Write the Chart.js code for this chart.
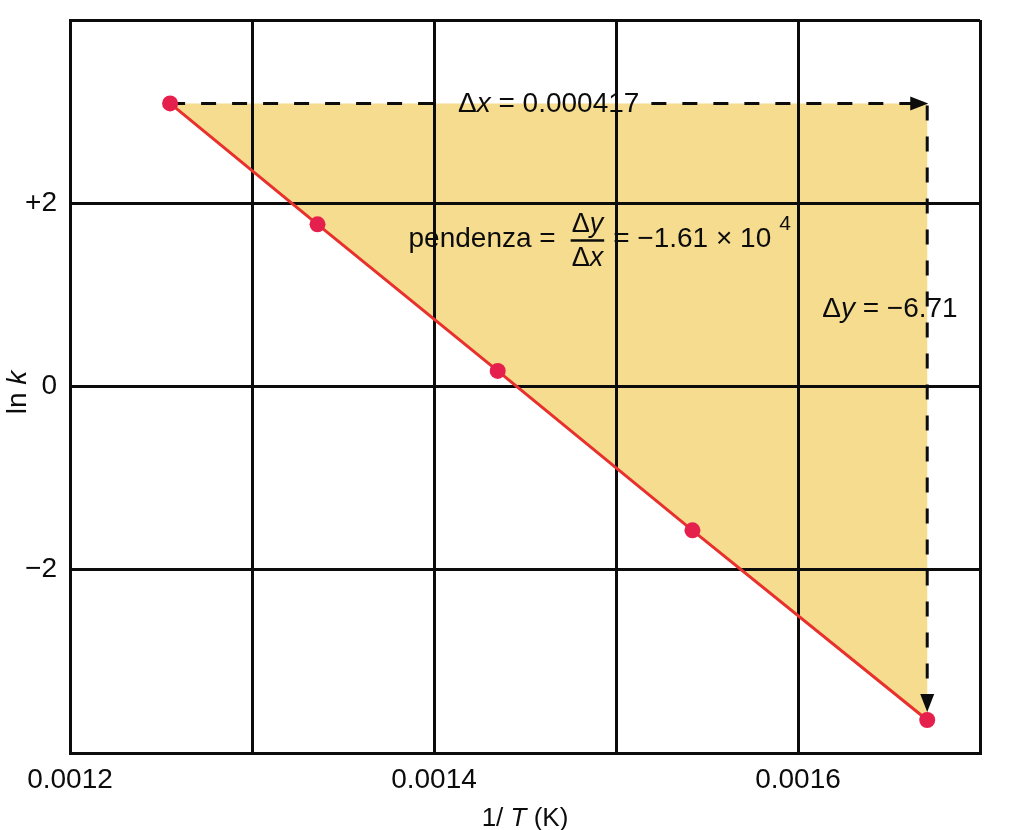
<!DOCTYPE html>
<html>
<head>
<meta charset="utf-8">
<script src="https://cdn.jsdelivr.net/npm/chart.js@4.4.0/dist/chart.umd.min.js"></script>
<style>
  html, body { margin: 0; padding: 0; background: #fff; }
</style>
</head>
<body>
<canvas id="arrhenius" width="1021" height="830"></canvas>
<script>
// data
const invT = [0.001255, 0.001336, 0.001435, 0.001542, 0.001671];
const lnK = [3.09, 1.77, 0.17, -1.57, -3.64];
const xGridValues = [0.0012, 0.0013, 0.0014, 0.0015, 0.0016, 0.0017];
const xTickLabels = ['0.0012', '', '0.0014', '', '0.0016', ''];
const yGridValues = [-4, -2, 0, 2, 4];
const yTickLabels = ['', '−2', '0', '+2', ''];
const deltaXText = '0.000417';
const deltaYText = '−6.71';
const slopeText = '−1.61';

const FONT = '"Liberation Sans", Arial, Helvetica, sans-serif';
const INK = '#0c0c0c';

function font(size, italic) {
  return (italic ? 'italic ' : '') + size + 'px ' + FONT;
}

// draws a list of text runs left to right, returns the end x
function drawRuns(ctx, runs, x, y) {
  runs.forEach(r => {
    ctx.font = font(r.size || 28, r.italic);
    ctx.fillText(r.t, x, y + (r.dy || 0));
    x += ctx.measureText(r.t).width;
  });
  return x;
}

function runsWidth(ctx, runs) {
  let w = 0;
  runs.forEach(r => {
    ctx.font = font(r.size || 28, r.italic);
    w += ctx.measureText(r.t).width;
  });
  return w;
}

function arrowHead(ctx, tx, ty, dir) {
  const len = 18, half = 7;
  ctx.beginPath();
  if (dir === 'right') {
    ctx.moveTo(tx, ty);
    ctx.lineTo(tx - len, ty - half);
    ctx.lineTo(tx - len, ty + half);
  } else {
    ctx.moveTo(tx, ty);
    ctx.lineTo(tx - half, ty - len);
    ctx.lineTo(tx + half, ty - len);
  }
  ctx.closePath();
  ctx.fill();
}

function corners(chart) {
  const { x, y } = chart.scales;
  const n = invT.length - 1;
  return {
    x0: x.getPixelForValue(invT[0]), y0: y.getPixelForValue(lnK[0]),
    x1: x.getPixelForValue(invT[n]), y1: y.getPixelForValue(lnK[n])
  };
}

// yellow triangle goes under the grid lines
const trianglePlugin = {
  id: 'triangle',
  beforeDraw(chart) {
    const ctx = chart.ctx;
    const c = corners(chart);
    ctx.save();
    ctx.fillStyle = '#f6dc8e';
    ctx.beginPath();
    ctx.moveTo(c.x0, c.y0);
    ctx.lineTo(c.x1, c.y0);
    ctx.lineTo(c.x1, c.y1);
    ctx.closePath();
    ctx.fill();
    ctx.restore();
  }
};

const dxRuns = [{ t: 'Δ' }, { t: 'x', italic: true }, { t: ' = ' + deltaXText }];

const arrowsPlugin = {
  id: 'arrows',
  beforeDatasetsDraw(chart) {
    const ctx = chart.ctx;
    const c = corners(chart);
    const textW = runsWidth(ctx, dxRuns);
    const mid = (c.x0 + c.x1) / 2;
    const tipX = c.x1 + 1;
    const tipY = c.y1 - 8;
    ctx.save();
    ctx.strokeStyle = INK;
    ctx.fillStyle = INK;
    ctx.lineWidth = 3;
    ctx.setLineDash([15, 16]);
    ctx.beginPath();
    ctx.moveTo(c.x0, c.y0);
    ctx.lineTo(mid - textW / 2 - 10, c.y0);
    ctx.moveTo(mid + textW / 2 + 12, c.y0);
    ctx.lineTo(tipX - 16, c.y0);
    ctx.moveTo(c.x1, c.y0 + 2);
    ctx.lineTo(c.x1, tipY - 16);
    ctx.stroke();
    ctx.setLineDash([]);
    arrowHead(ctx, tipX, c.y0, 'right');
    arrowHead(ctx, c.x1, tipY, 'down');
    ctx.restore();
  },
  afterDatasetsDraw(chart) {
    const ctx = chart.ctx;
    const { x, y } = chart.scales;
    const area = chart.chartArea;
    const c = corners(chart);
    ctx.save();
    ctx.fillStyle = INK;
    ctx.textBaseline = 'alphabetic';
    ctx.textAlign = 'left';

    // Δx label
    const textW = runsWidth(ctx, dxRuns);
    drawRuns(ctx, dxRuns, (c.x0 + c.x1) / 2 - textW / 2, c.y0 + 9);

    // slope with fraction
    const sx = x.getPixelForValue(0.001386);
    const sy = y.getPixelForValue(1.52);
    let px = drawRuns(ctx, [{ t: 'pendenza =' }], sx, sy) + 16;
    const num = [{ t: 'Δ', size: 27 }, { t: 'y', italic: true, size: 27 }];
    const den = [{ t: 'Δ', size: 27 }, { t: 'x', italic: true, size: 27 }];
    const fw = Math.max(runsWidth(ctx, num), runsWidth(ctx, den));
    drawRuns(ctx, num, px + (fw - runsWidth(ctx, num)) / 2, sy - 15);
    drawRuns(ctx, den, px + (fw - runsWidth(ctx, den)) / 2, sy + 19);
    ctx.fillRect(px - 1, sy - 8, fw + 2, 2.5);
    px += fw + 10;
    px = drawRuns(ctx, [{ t: '= ' + slopeText + ' × 10' }], px, sy) + 8;
    drawRuns(ctx, [{ t: '4', size: 21 }], px, sy - 17);

    // Δy label
    drawRuns(ctx, [{ t: 'Δ' }, { t: 'y', italic: true }, { t: ' = ' + deltaYText }],
      c.x1 - 105, y.getPixelForValue(0.76));

    // axis titles
    const tRuns = [{ t: '1/ ', size: 26 }, { t: 'T', italic: true, size: 26 }, { t: ' (K)', size: 26 }];
    const tw = runsWidth(ctx, tRuns);
    drawRuns(ctx, tRuns, (area.left + area.right) / 2 - tw / 2, 826);

    const kRuns = [{ t: 'ln ', size: 28 }, { t: 'k', italic: true, size: 28 }];
    const kw = runsWidth(ctx, kRuns);
    ctx.translate(26, (area.top + area.bottom) / 2 + 6);
    ctx.rotate(-Math.PI / 2);
    drawRuns(ctx, kRuns, -kw / 2, 0);
    ctx.restore();
  }
};

const tickFont = { family: FONT, size: 28 };

new Chart(document.getElementById('arrhenius'), {
  type: 'scatter',
  data: {
    datasets: [{
      data: invT.map((v, i) => ({ x: v, y: lnK[i] })),
      showLine: true,
      borderColor: '#e8302c',
      borderWidth: 3,
      pointRadius: 8,
      pointHoverRadius: 8,
      pointBackgroundColor: '#e5204c',
      pointBorderWidth: 0
    }]
  },
  options: {
    responsive: false,
    animation: false,
    layout: { padding: { top: 20, right: 41, left: 0, bottom: 0 } },
    plugins: { legend: { display: false }, tooltip: { enabled: false } },
    scales: {
      x: {
        type: 'linear',
        min: 0.0012,
        max: 0.0017,
        afterBuildTicks: s => { s.ticks = xGridValues.map(v => ({ value: v })); },
        afterFit: s => { s.height = 77; s.paddingLeft = 0; s.paddingRight = 0; },
        ticks: {
          autoSkip: false,
          maxRotation: 0,
          padding: 10,
          color: INK,
          font: tickFont,
          callback: (v, i) => xTickLabels[i]
        },
        grid: { color: INK, lineWidth: 3, drawTicks: false },
        border: { color: INK, width: 3 }
      },
      y: {
        min: -4,
        max: 4,
        afterBuildTicks: s => { s.ticks = yGridValues.map(v => ({ value: v })); },
        afterFit: s => { s.width = 70; s.paddingTop = 0; s.paddingBottom = 0; },
        ticks: {
          autoSkip: false,
          padding: 13,
          color: INK,
          font: tickFont,
          callback: (v, i) => yTickLabels[i]
        },
        grid: { color: INK, lineWidth: 3, drawTicks: false },
        border: { color: INK, width: 3 }
      }
    }
  },
  plugins: [trianglePlugin, arrowsPlugin]
});
</script>
</body>
</html>
